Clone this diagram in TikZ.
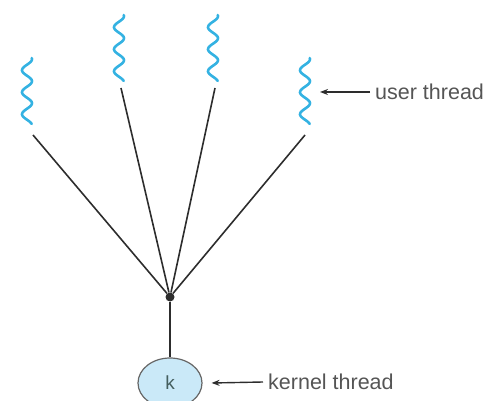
\documentclass[tikz,border=0pt]{standalone}
\usepackage{fontspec}
\setmainfont{Liberation Sans}
\usetikzlibrary{arrows.meta,positioning,shapes.geometric}
\definecolor{threadc}{RGB}{52,178,226}
\definecolor{kernc}{RGB}{202,233,248}
\definecolor{linec}{RGB}{45,45,45}
\definecolor{textc}{RGB}{85,85,85}

\begin{document}
\begin{tikzpicture}[x=1pt,y=-1pt,
  uthread/.style={draw=threadc,line width=2.6pt,line cap=round},
  link/.style={draw=linec,line width=1.6pt},
  pointer/.style={draw=linec,line width=1.4pt,-{Stealth[length=8pt,width=6pt]}},
  lbl/.style={text=textc,font=\fontsize{21.5}{24}\selectfont,anchor=west,inner sep=0pt}]
\useasboundingbox (0,0) rectangle (496,401);
% user threads
\foreach \n/\x/\y in {1/27/58,2/119/15,3/213/15,4/305/58}{
  \coordinate (top\n) at (\x,\y);
  \draw[uthread,shift={(top\n)}] plot[domain=0:66,samples=70,smooth,variable=\t]
    ({5*sin(\t*16.36+70)},\t);
}
\coordinate (end1) at (33,135);
\coordinate (end2) at (121,88);
\coordinate (end3) at (215,88);
\coordinate (end4) at (305,135);
% mapping point and kernel thread
\node[circle,fill=linec,inner sep=0pt,minimum size=9pt] (hub) at (170,297) {};
\node[ellipse,draw=gray!80!black,line width=1.2pt,fill=kernc,minimum width=64pt,
      minimum height=50pt,font=\fontsize{19}{22}\selectfont,text=textc!80!teal] (kern) at (170,383) {k};
\foreach \n in {1,...,4}
  \draw[link] (end\n) -- (hub);
\draw[link,line width=2pt] (hub) -- (kern);
% labels
\node[lbl] (ulbl) at (375,92) {user thread};
\node[lbl] (klbl) at (268,382) {kernel thread};
\draw[pointer] ([xshift=-5pt]ulbl.west) -- (320,92);
\draw[pointer] ([xshift=-5pt]klbl.west) -- ([xshift=9pt]kern.east);
\end{tikzpicture}
\end{document}
